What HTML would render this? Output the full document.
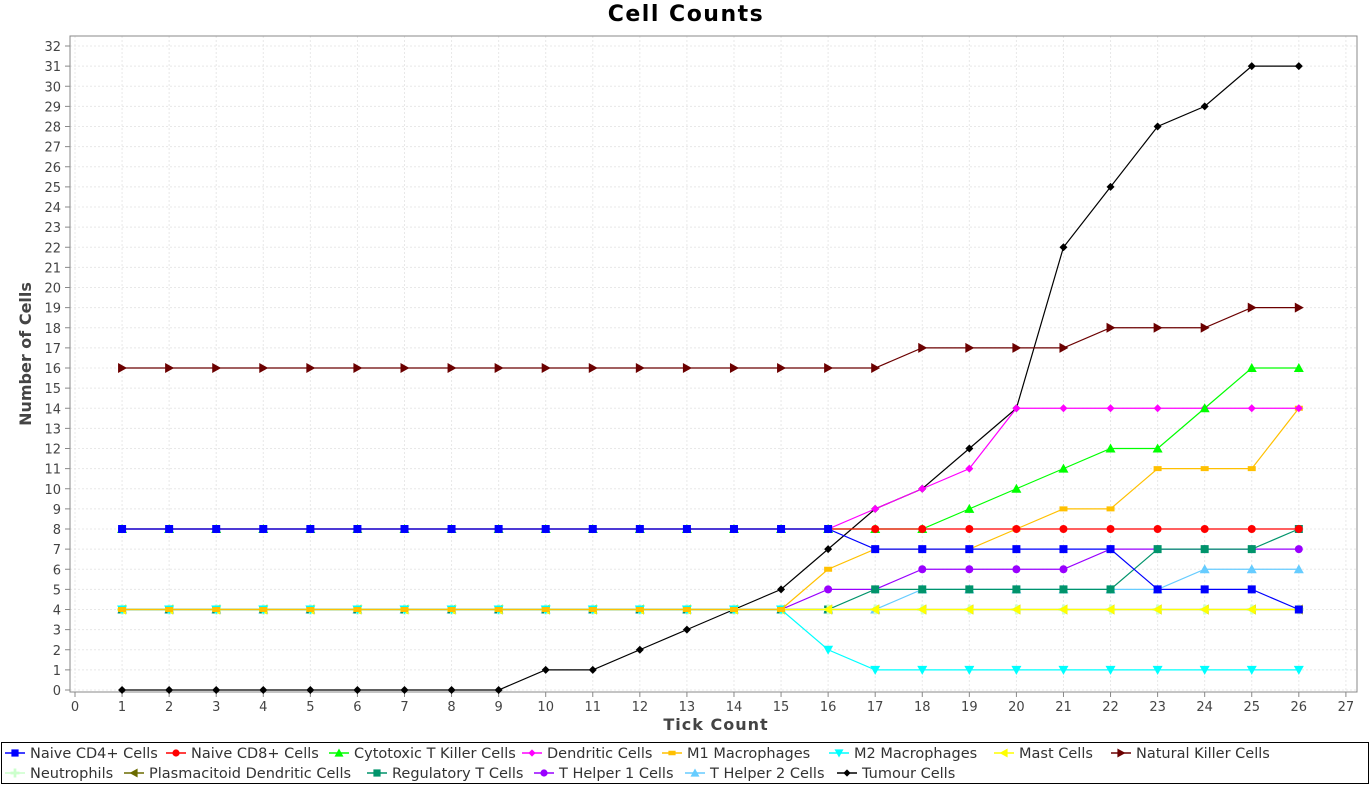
<!DOCTYPE html>
<html><head><meta charset="utf-8"><style>
body{margin:0;background:#fff;font-family:"DejaVu Sans","Liberation Sans",sans-serif;}
</style></head><body>
<svg id="chart" width="1371" height="785" xmlns="http://www.w3.org/2000/svg" style="display:block">
<rect width="1371" height="785" fill="#fff"/>
<text x="686" y="21" text-anchor="middle" font-size="22" font-weight="bold" letter-spacing="1.5" fill="#000">Cell Counts</text>
<g id="grid"></g>
<rect x="70" y="36" width="1287" height="656" fill="none" stroke="#888" stroke-width="1"/>
<g id="axes"></g>
<g id="series"></g>
<text x="716" y="730" text-anchor="middle" font-size="16" font-weight="bold" letter-spacing="1" fill="#444">Tick Count</text>
<text transform="translate(31,354) rotate(-90)" text-anchor="middle" font-size="16" font-weight="bold" fill="#444">Number of Cells</text>
<rect x="1.5" y="742.5" width="1367" height="41" fill="#fff" stroke="#000"/>
<g id="legend"></g>
</svg>
<script>
const ticks = [1,2,3,4,5,6,7,8,9,10,11,12,13,14,15,16,17,18,19,20,21,22,23,24,25,26];
const names = ["Naive CD4+ Cells","Naive CD8+ Cells","Cytotoxic T Killer Cells","Dendritic Cells","M1 Macrophages","M2 Macrophages","Mast Cells","Natural Killer Cells","Neutrophils","Plasmacitoid Dendritic Cells","Regulatory T Cells","T Helper 1 Cells","T Helper 2 Cells","Tumour Cells"];
const colors = ["#0000ff","#ff0000","#00ff00","#ff00ff","#ffc000","#00ffff","#ffff00","#6b0000","#ccffcc","#6b6b00","#00946b","#9900ff","#66ccff","#000000"];
const shapes = ["square","circle","up","diamond","rect","down","left","right","cross","left","square","circle","up","diamond"];
const naiveCD4 = [8,8,8,8,8,8,8,8,8,8,8,8,8,8,8,8,7,7,7,7,7,7,5,5,5,4];
const naiveCD8 = [8,8,8,8,8,8,8,8,8,8,8,8,8,8,8,8,8,8,8,8,8,8,8,8,8,8];
const cytotoxic = [8,8,8,8,8,8,8,8,8,8,8,8,8,8,8,8,8,8,9,10,11,12,12,14,16,16];
const dendritic = [8,8,8,8,8,8,8,8,8,8,8,8,8,8,8,8,9,10,11,14,14,14,14,14,14,14];
const m1 = [4,4,4,4,4,4,4,4,4,4,4,4,4,4,4,6,7,7,7,8,9,9,11,11,11,14];
const m2 = [4,4,4,4,4,4,4,4,4,4,4,4,4,4,4,2,1,1,1,1,1,1,1,1,1,1];
const mast = [4,4,4,4,4,4,4,4,4,4,4,4,4,4,4,4,4,4,4,4,4,4,4,4,4,4];
const nk = [16,16,16,16,16,16,16,16,16,16,16,16,16,16,16,16,16,17,17,17,17,18,18,18,19,19];
const neutro = [4,4,4,4,4,4,4,4,4,4,4,4,4,4,4,4,4,4,4,4,4,4,4,4,4,4];
const plasma = [4,4,4,4,4,4,4,4,4,4,4,4,4,4,4,4,4,4,4,4,4,4,4,4,4,4];
const treg = [4,4,4,4,4,4,4,4,4,4,4,4,4,4,4,4,5,5,5,5,5,5,7,7,7,8];
const th1 = [4,4,4,4,4,4,4,4,4,4,4,4,4,4,4,5,5,6,6,6,6,7,7,7,7,7];
const th2 = [4,4,4,4,4,4,4,4,4,4,4,4,4,4,4,4,4,5,5,5,5,5,5,6,6,6];
const tumour = [0,0,0,0,0,0,0,0,0,1,1,2,3,4,5,7,9,10,12,14,22,25,28,29,31,31];
const series = [naiveCD4,naiveCD8,cytotoxic,dendritic,m1,m2,mast,nk,neutro,plasma,treg,th1,th2,tumour];
const xTicks = [0,1,2,3,4,5,6,7,8,9,10,11,12,13,14,15,16,17,18,19,20,21,22,23,24,25,26,27];
const yTicks = [0,1,2,3,4,5,6,7,8,9,10,11,12,13,14,15,16,17,18,19,20,21,22,23,24,25,26,27,28,29,30,31,32];
const legendX = [[5,166,329,522,662,829,994,1111],[5,124,367,534,685,837]];

const NS="http://www.w3.org/2000/svg";
const X=v=>75+v*47.07, Y=v=>690-v*20.125;
function mk(tag,attrs,parent){const e=document.createElementNS(NS,tag);for(const k in attrs)e.setAttribute(k,attrs[k]);parent.appendChild(e);return e;}
const grid=document.getElementById('grid'),axes=document.getElementById('axes'),sg=document.getElementById('series'),lg=document.getElementById('legend');
xTicks.forEach(t=>{
  const l=mk('line',{x1:X(t),x2:X(t),y1:36,y2:692,stroke:'#e8e8e8','stroke-dasharray':'2,2'},grid);
  
  
  mk('line',{x1:X(t),x2:X(t),y1:692,y2:697,stroke:'#888'},axes);
  const tx=mk('text',{x:X(t),y:711,'text-anchor':'middle','font-size':13,fill:'#444'},axes);tx.textContent=t;
  
  
});
yTicks.forEach(t=>{
  const l=mk('line',{x1:70,x2:1357,y1:Y(t),y2:Y(t),stroke:'#e8e8e8','stroke-dasharray':'2,2'},grid);
  
  
  mk('line',{x1:65,x2:70,y1:Y(t),y2:Y(t),stroke:'#888'},axes);
  const tx=mk('text',{x:61,y:Y(t)+5,'text-anchor':'end','font-size':13,fill:'#444'},axes);tx.textContent=t;
  
  
});
function marker(shape,cx,cy,c,p,s){
  s=s||1;let e;
  if(shape==='square')e=mk('rect',{x:cx-4*s,y:cy-4*s,width:8*s,height:8*s,fill:c},p);
  else if(shape==='rect')e=mk('rect',{x:cx-4*s,y:cy-2.5*s,width:8*s,height:5*s,fill:c},p);
  else if(shape==='circle')e=mk('circle',{cx,cy,r:4*s,fill:c},p);
  else {
    let pts;
    if(shape==='up')pts=[[0,-5],[5,4],[-5,4]];
    else if(shape==='down')pts=[[0,5],[5,-4],[-5,-4]];
    else if(shape==='left')pts=[[-5,0],[4,-5],[4,5]];
    else if(shape==='right')pts=[[5,0],[-4,-5],[-4,5]];
    else if(shape==='diamond')pts=[[0,-4],[4,0],[0,4],[-4,0]];
    else pts=[[-1.5,-5],[1.5,-5],[1.5,-1.5],[5,-1.5],[5,1.5],[1.5,1.5],[1.5,5],[-1.5,5],[-1.5,1.5],[-5,1.5],[-5,-1.5],[-1.5,-1.5]];
    e=mk('polygon',{points:pts.map(q=>(cx+q[0]*s)+','+(cy+q[1]*s)).join(' '),fill:c},p);
  }
  return e;
}
for(let i=series.length-1;i>=0;i--){
  const d=series[i];
  const g=mk('g',{},sg);
  
  
  const pl=mk('polyline',{points:d.map((v,j)=>X(ticks[j])+','+Y(v)).join(' '),fill:'none',stroke:colors[i],'stroke-width':1.2},g);
  
  
  d.forEach((v,j)=>{const m=marker(shapes[i],X(ticks[j]),Y(v),colors[i],g);
    
    });
}
names.forEach((n,i)=>{
  const row=i<8?0:1,col=i<8?i:i-8;const x=legendX[row][col],y=row?773:753;
  const g=mk('g',{},lg);
  
  
  mk('line',{x1:x,x2:x+20,y1:y,y2:y,stroke:colors[i],'stroke-width':1.5},g);
  marker(shapes[i],x+10,y,colors[i],g,0.9);
  const t=mk('text',{x:x+25,y:y+5,'font-size':14.5,fill:'#333'},g);t.textContent=n;
});
</script>
</body></html>
